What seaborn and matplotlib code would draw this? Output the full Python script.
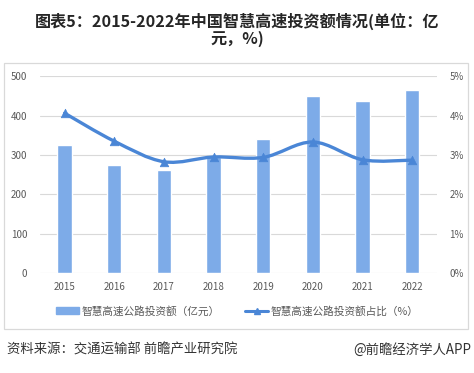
import matplotlib
matplotlib.use("Agg")
import matplotlib.pyplot as plt
import seaborn as sns
import pandas as pd
import numpy as np
from matplotlib.path import Path
from matplotlib.patches import PathPatch, Rectangle
from matplotlib.lines import Line2D

years = ["2015", "2016", "2017", "2018", "2019", "2020", "2021", "2022"]
invest = [325, 274, 261, 295, 340, 450, 437, 464]
share = [4.06, 3.35, 2.83, 2.95, 2.94, 3.33, 2.88, 2.87]
left_ticks = [0, 100, 200, 300, 400, 500]
right_ticks = [0, 1, 2, 3, 4, 5]

title = "图表5：2015-2022年中国智慧高速投资额情况(单位：亿\n元，%)"
bar_label = "智慧高速公路投资额（亿元）"
line_label = "智慧高速公路投资额占比（%）"
source = "资料来源：交通运输部 前瞻产业研究院"
credit = "@前瞻经济学人APP"

sns.set_theme(style="white")
plt.rcParams['font.family'] = ['Noto Sans CJK SC', 'DejaVu Sans']

bar_color = "#7DABE8"
line_color = "#4A86D6"
grid_color = "#D9D9D9"
text_color = "#595959"

fig = plt.figure(figsize=(4.74, 3.73), dpi=100)
ax = fig.add_axes([0.084, 0.267, 0.838, 0.529])

df = pd.DataFrame({"year": years, "invest": invest, "share": share})
sns.barplot(data=df, x="year", y="invest", ax=ax, color=bar_color,
            width=0.29, saturation=1, zorder=3)
ax.set_ylim(0, 500)
ax.set_xlim(-0.5, len(years) - 0.5)
ax.set_yticks(left_ticks)
ax.set_yticklabels([str(t) for t in left_ticks])
ax.yaxis.grid(True, color=grid_color, linewidth=0.8, zorder=0)
ax.set_axisbelow(True)
for s in ax.spines.values():
    s.set_visible(False)
ax.set_xlabel("")
ax.set_ylabel("")
ax.tick_params(axis="both", length=0, labelsize=7, colors=text_color, pad=6)
ax.tick_params(axis="y", pad=9)

ax2 = ax.twinx()
ax2.set_ylim(0, 5)
ax2.set_yticks(right_ticks)
ax2.set_yticklabels([f"{t}%" for t in right_ticks])
ax2.tick_params(axis="y", length=0, labelsize=7, colors=text_color, pad=9)
for s in ax2.spines.values():
    s.set_visible(False)
ax2.grid(False)

# smooth curve (Catmull-Rom -> cubic Bezier) through data points
xs = np.arange(len(years), dtype=float)
ys = np.array(share, dtype=float)
verts = [(xs[0], ys[0])]
codes = [Path.MOVETO]
for i in range(len(xs) - 1):
    p0 = np.array([xs[max(i - 1, 0)], ys[max(i - 1, 0)]])
    p1 = np.array([xs[i], ys[i]])
    p2 = np.array([xs[i + 1], ys[i + 1]])
    p3 = np.array([xs[min(i + 2, len(xs) - 1)], ys[min(i + 2, len(xs) - 1)]])
    c1 = p1 + (p2 - p0) / 6.0
    c2 = p2 - (p3 - p1) / 6.0
    verts += [tuple(c1), tuple(c2), tuple(p2)]
    codes += [Path.CURVE4] * 3
patch = PathPatch(Path(verts, codes), facecolor="none", edgecolor=line_color,
                  linewidth=2.4, zorder=4, capstyle="round", joinstyle="round")
ax2.add_patch(patch)
sns.scatterplot(x=xs, y=ys, ax=ax2, marker="^", s=38, color=line_color,
                edgecolor=line_color, zorder=5, legend=False)

# border box
fig.patches.append(Rectangle((0.0084, 0.118), 0.979, 0.713, transform=fig.transFigure,
                             fill=False, edgecolor=grid_color, linewidth=0.9))

handles = [Rectangle((0, 0), 1, 1, color=bar_color),
           Line2D([0], [0], color=line_color, linewidth=2.2, marker="^",
                  markersize=5)]
fig.legend(handles, [bar_label, line_label], loc="center", ncol=2,
           bbox_to_anchor=(0.5, 0.166), frameon=False, fontsize=7.7,
           handlelength=2.2, handleheight=0.6, columnspacing=2.4,
           handletextpad=0.2, labelcolor=text_color)

fig.text(0.5, 0.92, title, ha="center", va="center", fontsize=11.6,
         fontweight="bold", color="#262626", linespacing=1.05)
fig.text(0.015, 0.062, source, ha="left", va="center", fontsize=9.6,
         color="#333333")
fig.text(0.995, 0.062, credit, ha="right", va="center", fontsize=9.6,
         color="#333333")

fig.savefig("out.png", dpi=100, facecolor="white")
